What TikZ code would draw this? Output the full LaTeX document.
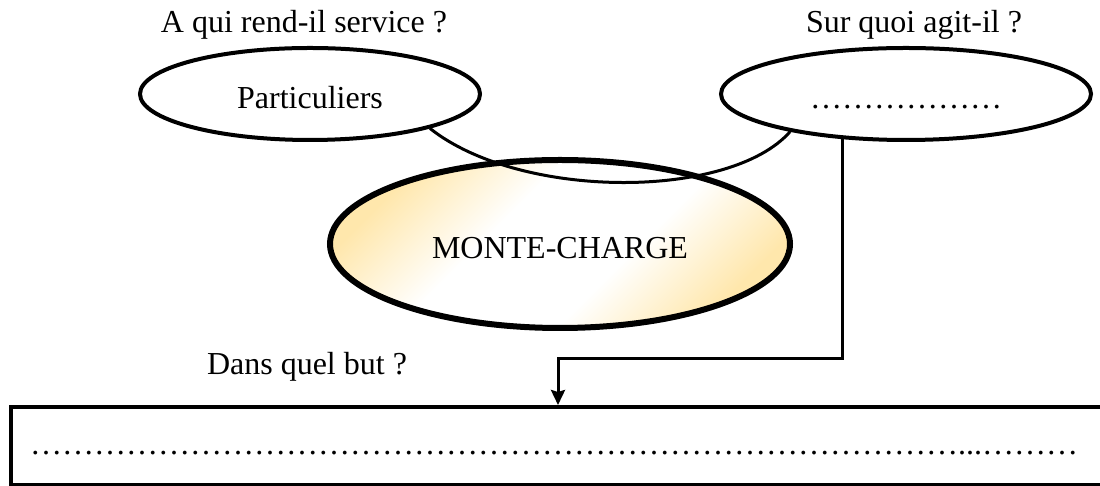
\documentclass[tikz,border=0pt]{standalone}
\usepackage{fontspec}
\setmainfont{Liberation Serif}
\usetikzlibrary{shapes.geometric,arrows.meta}

\definecolor{chargeyellow}{RGB}{255,231,172}
\pgfdeclareverticalshading{chargeshade}{100bp}{color(0bp)=(chargeyellow); color(25bp)=(chargeyellow);
    color(41bp)=(white); color(59bp)=(white); color(75bp)=(chargeyellow); color(100bp)=(chargeyellow)}

% a row of n ellipsis characters
\newcommand\pointilles[1]{\foreach \n in {1,...,#1}{…}}

\begin{document}
\begin{tikzpicture}[x=1pt,y=1pt,
        every node/.style={font=\fontsize{32}{38}\selectfont},
        bulle/.style={ellipse,draw,line width=4pt,inner sep=0pt,text height=29pt,text depth=0pt},
        link/.style={line width=3pt}]
    \useasboundingbox (0,0) rectangle (1100,486);

            \node [anchor=base] (qui) at (304,453) {A qui rend-il service ?};
            \node [anchor=base] (quoi) at (914,453) {Sur quoi agit-il ?};
            \node [anchor=base] (butq) at (307,111) {Dans quel but ?};

            \node [bulle,minimum width=340,minimum height=92] (part) at (310,392) {Particuliers};
            \node [bulle,minimum width=370,minimum height=92] (obj) at (906,392) {\pointilles{6}};
            \node [bulle,line width=6pt,minimum width=460,minimum height=168,
                shading=chargeshade,shading angle=45] (mc) at (560,242) {MONTE-CHARGE};

            \node [draw,line width=4pt,minimum width=1095,minimum height=78,inner sep=0pt] (but) at (558,40) {};
            \node [anchor=base west,inner sep=0pt] (butdots) at (30,31) {\pointilles{29}...\pointilles{3}};

                \coordinate (objfoot) at (842,348);
                \coordinate (turn) at (558,127);

            \draw[link] (part.-16) .. controls (520,286) and (730,286) .. (obj.-162);
            \draw[link,-{Stealth[length=15pt,width=14pt,inset=2pt]}] (objfoot) |- (turn) -- (but.north);

\end{tikzpicture}
\end{document}
